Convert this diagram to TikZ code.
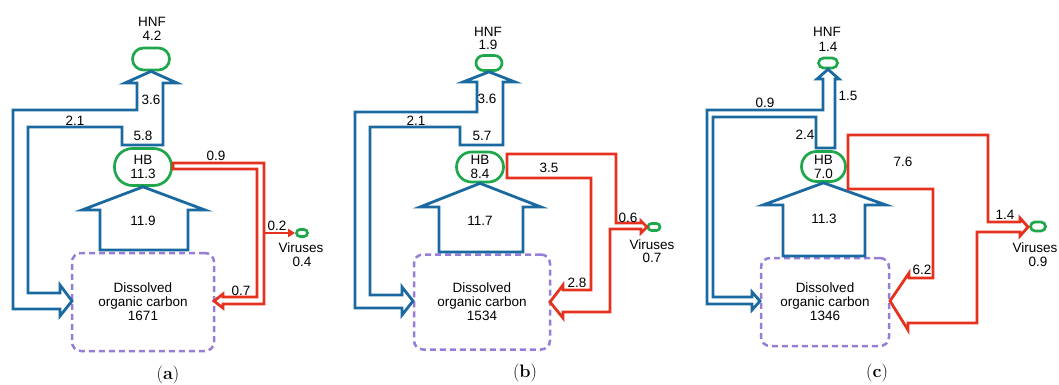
\documentclass[tikz,border=0pt]{standalone}
\usepackage{fontspec}
\setsansfont{Liberation Sans}
\usetikzlibrary{arrows.meta}
\definecolor{flowblue}{RGB}{26,105,160}
\definecolor{flowred}{RGB}{228,50,30}
\definecolor{poolgreen}{RGB}{30,168,75}
\definecolor{docpurple}{RGB}{150,125,215}
\tikzset{
  bflow/.style={draw=flowblue, line width=2.8pt},
  rflow/.style={draw=flowred, line width=2.8pt},
  vtip/.style={rflow, -{Triangle[length=7pt, width=8pt]}},
  pool/.style={draw=poolgreen, line width=2.7pt, inner sep=0pt, align=center},
  docbox/.style={draw=docpurple, line width=2.5pt, dash pattern=on 6pt off 4pt,
    rounded corners=9pt, inner sep=0pt, align=center},
  txt/.style={inner sep=0pt, align=center},
  panelcap/.style={inner sep=0pt, font=\rmfamily\fontsize{18}{20}\selectfont},
}

\begin{document}
\begin{tikzpicture}[x=1pt, y=-1pt, font=\sffamily\fontsize{13.5}{14}\selectfont]
  \useasboundingbox (0,0) rectangle (1059,385);

  % ---------- panel (a) ----------
  \node[pool, minimum width=37pt, minimum height=22pt, rounded corners=11pt] (hnfA) at (151,59) {};
  \node[txt] (hnfAname) at (152,22) {HNF};
  \node[txt] (hnfAval) at (152,36) {4.2};
  \node[pool, minimum width=57pt, minimum height=37pt, rounded corners=18pt] (hbA) at (143,167) {HB\\11.3};
  \node[docbox, minimum width=142pt, minimum height=98pt] (docA) at (143,302) {Dissolved\\organic carbon\\1671};
  \node[pool, minimum width=11pt, minimum height=7pt, rounded corners=3.5pt] (virA) at (302,233) {};
  \node[txt] (virAname) at (301,248) {Viruses};
  \node[txt] (virAval) at (302,262) {0.4};
  % uptake from DOC
  \draw[bflow] (100,250) -- (100,210) -- (82,210) -- (hbA.south) -- (205,210) -- (188,210) -- (188,250) -- cycle;
  % release to HNF and back to DOC
  \draw[bflow] (122,145) -- (122,127) -- (28,127) -- (28,293) -- (60,293) -- (60,285) -- (72,301)
    -- (60,316) -- (60,309) -- (13,309) -- (13,110) -- (137,110) -- (137,83) -- (125,83)
    -- (hnfA.south) -- (177,83) -- (163,83) -- (163,145) -- cycle;
  % viral lysis
  \draw[rflow] (173,163) -- (264,163) -- (264,304) -- (223,304) -- (223,308) -- (214,301)
    -- (223,294) -- (223,297) -- (257,297) -- (257,169) -- (173,169) -- cycle;
  \draw[vtip] (264,233) -- (virA.west);
  % flow values
  \node[txt] (fA1) at (151,100) {3.6};
  \node[txt] (fA2) at (75,121) {2.1};
  \node[txt] (fA3) at (143,136) {5.8};
  \node[txt] (fA4) at (143,221) {11.9};
  \node[txt] (fA5) at (216,156) {0.9};
  \node[txt] (fA6) at (277,226) {0.2};
  \node[txt] (fA7) at (241,291) {0.7};
  \node[panelcap] (capA) at (168,375) {(\textbf{a})};

  % ---------- panel (b) ----------
  \node[pool, minimum width=26pt, minimum height=15pt, rounded corners=7.5pt] (hnfB) at (489,63) {};
  \node[txt] (hnfBname) at (488,32) {HNF};
  \node[txt] (hnfBval) at (488,45) {1.9};
  \node[pool, minimum width=47pt, minimum height=30pt, rounded corners=15pt] (hbB) at (480,167) {HB\\8.4};
  \node[docbox, minimum width=136pt, minimum height=95pt] (docB) at (482,302) {Dissolved\\organic carbon\\1534};
  \node[pool, minimum width=12pt, minimum height=7pt, rounded corners=3.5pt] (virB) at (654,227) {};
  \node[txt] (virBname) at (652,245) {Viruses};
  \node[txt] (virBval) at (652,258) {0.7};
  % uptake from DOC
  \draw[bflow] (439,252) -- (439,207) -- (420,207) -- (hbB.south) -- (541,207) -- (523,207) -- (523,252) -- cycle;
  % release to HNF and back to DOC
  \draw[bflow] (460,145) -- (460,127) -- (370,127) -- (370,295) -- (402,295) -- (402,287) -- (413,301)
    -- (402,315) -- (402,308) -- (355,308) -- (355,112) -- (477,112) -- (477,82) -- (463,82)
    -- (hnfB.south) -- (515,82) -- (503,82) -- (503,145) -- cycle;
  % viral lysis
  \draw[rflow] (507,154) -- (616,154) -- (616,223) -- (641,223) -- (641,221) -- (647,227)
    -- (641,233) -- (641,229) -- (610,229) -- (610,312) -- (563,312) -- (563,318) -- (550,302)
    -- (563,285) -- (563,290) -- (591,290) -- (591,178) -- (507,178) -- cycle;
  % flow values
  \node[txt] (fB1) at (487,99) {3.6};
  \node[txt] (fB2) at (416,121) {2.1};
  \node[txt] (fB3) at (482,136) {5.7};
  \node[txt] (fB4) at (480,221) {11.7};
  \node[txt] (fB5) at (549,168) {3.5};
  \node[txt] (fB6) at (628,218) {0.6};
  \node[txt] (fB7) at (577,283) {2.8};
  \node[panelcap] (capB) at (525,373) {(\textbf{b})};

  % ---------- panel (c) ----------
  \node[pool, minimum width=19pt, minimum height=10pt, rounded corners=5pt] (hnfC) at (828,63) {};
  \node[txt] (hnfCname) at (827,32) {HNF};
  \node[txt] (hnfCval) at (828,47) {1.4};
  \node[pool, minimum width=44pt, minimum height=30pt, rounded corners=15pt] (hbC) at (823.5,166.5) {HB\\7.0};
  \node[docbox, minimum width=128pt, minimum height=88pt] (docC) at (825,302) {Dissolved\\organic carbon\\1346};
  \node[pool, minimum width=15pt, minimum height=9pt, rounded corners=4.5pt] (virC) at (1038,226.5) {};
  \node[txt] (virCname) at (1035,248) {Viruses};
  \node[txt] (virCval) at (1038,262) {0.9};
  % uptake from DOC
  \draw[bflow] (783,256) -- (783,205) -- (763,205) -- (hbC.south) -- (886,205) -- (865,205) -- (865,256) -- cycle;
  % release to HNF and back to DOC
  \draw[bflow] (816,148) -- (816,117) -- (713,117) -- (713,297) -- (752,297) -- (752,292) -- (760,301)
    -- (752,310) -- (752,304) -- (707,304) -- (707,110) -- (823,110) -- (823,79) -- (817,79)
    -- (hnfC.south) -- (839,79) -- (835,79) -- (835,148) -- cycle;
  % viral lysis
  \draw[rflow] (848,135) -- (988,135) -- (988,222) -- (1020,222) -- (1020,218) -- (1028,227)
    -- (1020,236) -- (1020,232) -- (977,232) -- (977,323) -- (908,323) -- (908,330) -- (890,301)
    -- (909,273) -- (909,278) -- (933,278) -- (933,189) -- (848,189) -- cycle;
  % flow values
  \node[txt] (fC1) at (848,96) {1.5};
  \node[txt] (fC2) at (765,103) {0.9};
  \node[txt] (fC3) at (805,135) {2.4};
  \node[txt] (fC4) at (824,219) {11.3};
  \node[txt] (fC5) at (903,162) {7.6};
  \node[txt] (fC6) at (1005,215) {1.4};
  \node[txt] (fC7) at (922,270) {6.2};
  \node[panelcap] (capC) at (877,373) {(\textbf{c})};
\end{tikzpicture}
\end{document}
